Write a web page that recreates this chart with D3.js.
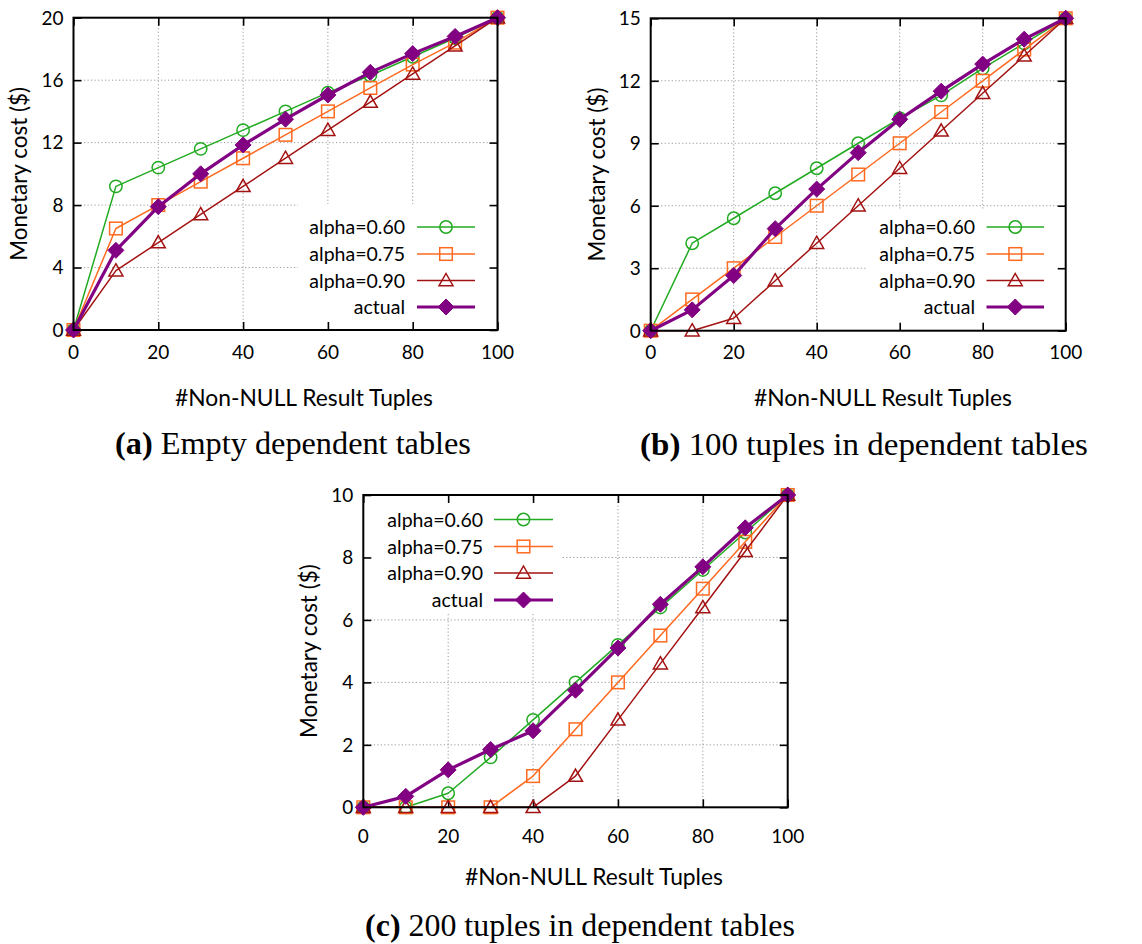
<!DOCTYPE html>
<html>
<head>
<meta charset="utf-8">
<script src="https://cdn.jsdelivr.net/npm/d3@7"></script>
<style>
  html, body { margin: 0; padding: 0; background: #fff; }
  svg { display: block; }
</style>
</head>
<body>
<svg id="chart" width="1142" height="944"></svg>
<script>
// ---------------- DATA ----------------
const xValues = [0, 10, 20, 30, 40, 50, 60, 70, 80, 90, 100];
const xTicks = [0, 20, 40, 60, 80, 100];
const seriesNames = ["alpha=0.60", "alpha=0.75", "alpha=0.90", "actual"];

// (a) Empty dependent tables
const a_alpha060 = [0, 9.2, 10.4, 11.6, 12.8, 14.0, 15.2, 16.3, 17.5, 18.7, 20];
const a_alpha075 = [0, 6.5, 8.0, 9.5, 11.0, 12.5, 14.0, 15.5, 17.0, 18.4, 20];
const a_alpha090 = [0, 3.8, 5.6, 7.4, 9.2, 11.0, 12.8, 14.6, 16.4, 18.2, 20];
const a_actual   = [0, 5.1, 7.9, 10.0, 11.85, 13.5, 15.05, 16.5, 17.7, 18.8, 20];
const a_yTicks = [0, 4, 8, 12, 16, 20];

// (b) 100 tuples in dependent tables
const b_alpha060 = [0, 4.2, 5.4, 6.6, 7.8, 9.0, 10.2, 11.3, 12.6, 13.8, 15];
const b_alpha075 = [0, 1.5, 3.0, 4.5, 6.0, 7.5, 9.0, 10.5, 12.0, 13.5, 15];
const b_alpha090 = [0, 0, 0.6, 2.4, 4.2, 6.0, 7.8, 9.6, 11.4, 13.2, 15];
const b_actual   = [0, 1.0, 2.65, 4.9, 6.8, 8.55, 10.15, 11.5, 12.8, 14.0, 15];
const b_yTicks = [0, 3, 6, 9, 12, 15];

// (c) 200 tuples in dependent tables
const c_alpha060 = [0, 0, 0.45, 1.6, 2.8, 4.0, 5.2, 6.4, 7.6, 8.8, 10];
const c_alpha075 = [0, 0, 0, 0, 1.0, 2.5, 4.0, 5.5, 7.0, 8.5, 10];
const c_alpha090 = [0, 0, 0, 0, 0, 1.0, 2.8, 4.6, 6.4, 8.2, 10];
const c_actual   = [0, 0.35, 1.2, 1.85, 2.45, 3.75, 5.1, 6.5, 7.7, 8.95, 10];
const c_yTicks = [0, 2, 4, 6, 8, 10];

const captionLetters = ["(a)", "(b)", "(c)"];
const captionTexts = [" Empty dependent tables", " 100 tuples in dependent tables", " 200 tuples in dependent tables"];
const xLabel = "#Non-NULL Result Tuples";
const yLabel = "Monetary cost ($)";

// ---------------- STYLE ----------------
const colors = ["#22aa22", "#ff6a1f", "#a31212", "#820082"];
const symbols = ["circle", "square", "triangle", "diamond"];
const widths = [1.5, 1.5, 1.5, 3.2];
const SANS = "Lato, 'Open Sans', sans-serif";
const SERIF = "'Liberation Serif', 'DejaVu Serif', serif";

const svg = d3.select("#chart");
svg.append("rect").attr("width", 1142).attr("height", 944).attr("fill", "#fff");

const panels = [
  { series: [a_alpha060, a_alpha075, a_alpha090, a_actual], yTicks: a_yTicks, yMax: 20,
    x0: 73.5, x1: 497.5, y0: 330, y1: 17.7,
    legend: { textX: 405, lineX0: 417, lineX1: 475, rows: [227, 254, 280.5, 307] },
    box: { x: 298, y: 204, w: 199, h: 125 },
    yLabelX: 19, tickY: 359, xLabelX: 304, xLabelY: 406, capX: 293, capY: 454, capW: 356 },
  { series: [b_alpha060, b_alpha075, b_alpha090, b_actual], yTicks: b_yTicks, yMax: 15,
    x0: 650.7, x1: 1065.7, y0: 330.7, y1: 18.3,
    legend: { textX: 975, lineX0: 986.5, lineX1: 1044, rows: [227, 254, 280.5, 307] },
    box: { x: 867, y: 209, w: 198, h: 121 },
    yLabelX: 597, tickY: 359, xLabelX: 883, xLabelY: 406, capX: 864, capY: 455, capW: 448 },
  { series: [c_alpha060, c_alpha075, c_alpha090, c_actual], yTicks: c_yTicks, yMax: 10,
    x0: 363.3, x1: 787.7, y0: 807.3, y1: 495,
    legend: { textX: 483, lineX0: 494, lineX1: 553, rows: [519.5, 546.5, 573, 600] },
    box: { x: 364, y: 496, w: 198, h: 116 },
    yLabelX: 309, tickY: 843, xLabelX: 594, xLabelY: 885, capX: 580, capY: 936, capW: 430 }
];

function drawMarker(g, type, cx, cy, color) {
  if (type === "circle") {
    g.append("circle").attr("cx", cx).attr("cy", cy).attr("r", 6.2)
      .attr("fill", "none").attr("stroke", color).attr("stroke-width", 1.5);
  } else if (type === "square") {
    g.append("rect").attr("x", cx - 6.3).attr("y", cy - 6.3).attr("width", 12.6).attr("height", 12.6)
      .attr("fill", "none").attr("stroke", color).attr("stroke-width", 1.5);
  } else if (type === "triangle") {
    const s = 7;
    g.append("path").attr("d", `M${cx},${cy - s} L${cx + s},${cy + s * 0.75} L${cx - s},${cy + s * 0.75} Z`)
      .attr("fill", "none").attr("stroke", color).attr("stroke-width", 1.5);
  } else {
    const s = 8;
    g.append("path").attr("d", `M${cx},${cy - s} L${cx + s},${cy} L${cx},${cy + s} L${cx - s},${cy} Z`)
      .attr("fill", color).attr("stroke", color).attr("stroke-width", 1);
  }
}

panels.forEach((p, pi) => {
  const g = svg.append("g");
  const x = d3.scaleLinear().domain([0, 100]).range([p.x0, p.x1]);
  const y = d3.scaleLinear().domain([0, p.yMax]).range([p.y0, p.y1]);

  // grid
  const grid = g.append("g").attr("stroke", "#9a9a9a").attr("stroke-width", 1).attr("stroke-dasharray", "1.2,2.3");
  xTicks.slice(1, -1).forEach(t => {
    grid.append("line").attr("x1", x(t)).attr("x2", x(t)).attr("y1", p.y1).attr("y2", p.y0);
  });
  p.yTicks.slice(1, -1).forEach(t => {
    grid.append("line").attr("x1", p.x0).attr("x2", p.x1).attr("y1", y(t)).attr("y2", y(t));
  });

  // legend box covering the grid (opaque key)
  g.append("rect").attr("x", p.box.x).attr("y", p.box.y).attr("width", p.box.w).attr("height", p.box.h).attr("fill", "#fff");

  // axes with inward ticks (mirrored)
  const axB = d3.axisBottom(x).tickValues(xTicks).tickSize(-8).tickFormat("");
  const axT = d3.axisTop(x).tickValues(xTicks).tickSize(-8).tickFormat("");
  const axL = d3.axisLeft(y).tickValues(p.yTicks).tickSize(-8).tickFormat("");
  const axR = d3.axisRight(y).tickValues(p.yTicks).tickSize(-8).tickFormat("");
  [[axB, `translate(0,${p.y0})`], [axT, `translate(0,${p.y1})`], [axL, `translate(${p.x0},0)`], [axR, `translate(${p.x1},0)`]]
    .forEach(([ax, tr]) => {
      const a = g.append("g").attr("transform", tr).call(ax);
      a.select(".domain").remove();
      a.selectAll("line").attr("stroke", "#000").attr("stroke-width", 1.6);
    });

  // tick labels
  xTicks.forEach(t => {
    g.append("text").attr("x", x(t)).attr("y", p.tickY).attr("text-anchor", "middle")
      .attr("font-family", SANS).attr("font-size", 19).attr("fill", "#000").text(t);
  });
  p.yTicks.forEach(t => {
    g.append("text").attr("x", p.x0 - 10).attr("y", y(t) + 6.8).attr("text-anchor", "end")
      .attr("font-family", SANS).attr("font-size", 19).attr("fill", "#000").text(t);
  });

  // axis labels
  g.append("text").attr("x", p.xLabelX).attr("y", p.xLabelY).attr("text-anchor", "middle")
    .attr("font-family", SANS).attr("font-size", 22.8).attr("fill", "#000").text(xLabel);
  g.append("text").attr("transform", `translate(${p.yLabelX + 8},${(p.y0 + p.y1) / 2}) rotate(-90)`)
    .attr("text-anchor", "middle").attr("font-family", SANS).attr("font-size", 22.5).attr("fill", "#000").text(yLabel);

  // series
  p.series.forEach((vals, si) => {
    const pts = xValues.map((xv, i) => [x(xv), y(vals[i])]);
    g.append("path").attr("d", d3.line()(pts)).attr("fill", "none")
      .attr("stroke", colors[si]).attr("stroke-width", widths[si]).attr("stroke-linejoin", "round");
    const mg = g.append("g");
    pts.forEach(([cx, cy]) => drawMarker(mg, symbols[si], cx, cy, colors[si]));
  });

  // legend
  seriesNames.forEach((name, si) => {
    const ry = p.legend.rows[si];
    g.append("text").attr("x", p.legend.textX).attr("y", ry + 7).attr("text-anchor", "end")
      .attr("font-family", SANS).attr("font-size", 19.5).attr("fill", "#000").text(name);
    g.append("line").attr("x1", p.legend.lineX0).attr("x2", p.legend.lineX1).attr("y1", ry).attr("y2", ry)
      .attr("stroke", colors[si]).attr("stroke-width", widths[si]);
    drawMarker(g, symbols[si], (p.legend.lineX0 + p.legend.lineX1) / 2, ry, colors[si]);
  });

  // border
  g.append("rect").attr("x", p.x0).attr("y", p.y1).attr("width", p.x1 - p.x0).attr("height", p.y0 - p.y1)
    .attr("fill", "none").attr("stroke", "#000").attr("stroke-width", 2);

  // caption (Palatino-like width emulated by horizontal stretch)
  const capG = g.append("g");
  const cap = capG.append("text").attr("x", 0).attr("y", 0).attr("text-anchor", "middle")
    .attr("font-family", SERIF).attr("font-size", 31).attr("fill", "#000");
  cap.append("tspan").attr("font-weight", "bold").text(captionLetters[pi]);
  cap.append("tspan").text(captionTexts[pi]);
  let w = p.capW;
  try { w = cap.node().getComputedTextLength(); } catch (e) {}
  const sx = w > 0 ? p.capW / w : 1;
  capG.attr("transform", `translate(${p.capX},${p.capY}) scale(${sx},1)`);
});
</script>
</body>
</html>
